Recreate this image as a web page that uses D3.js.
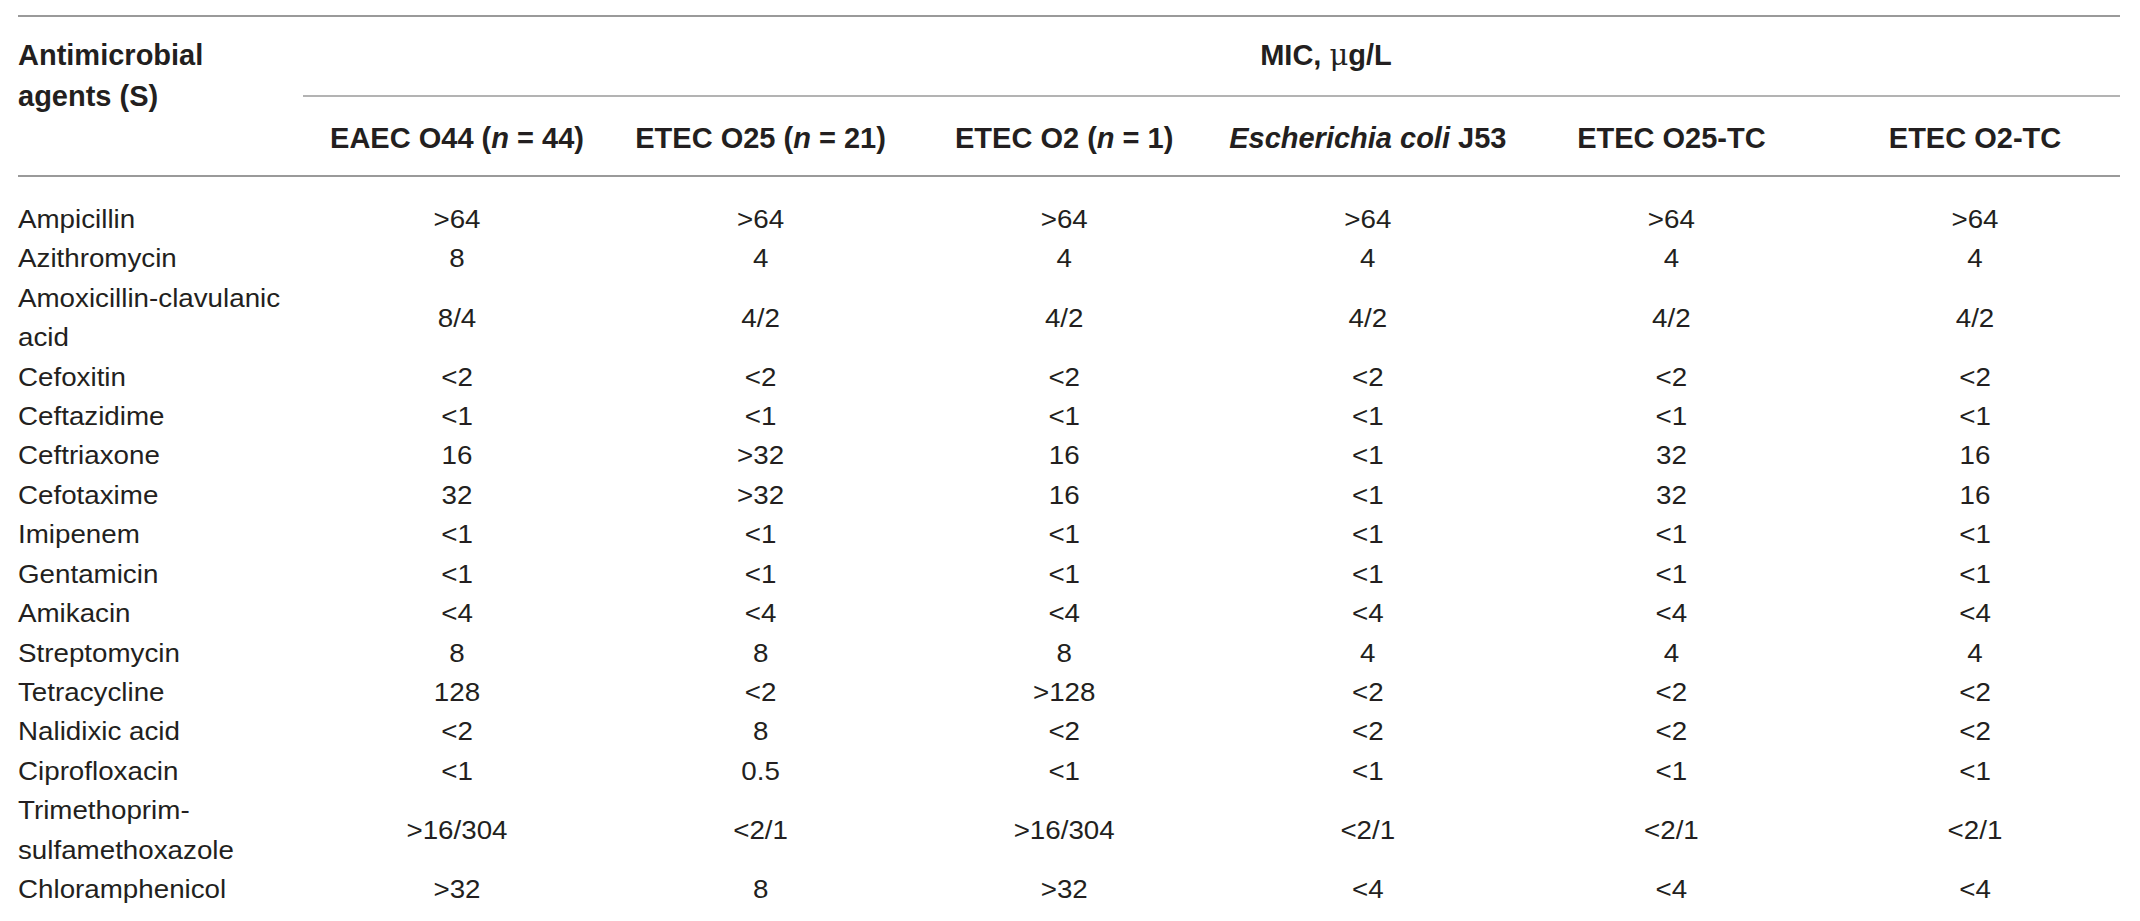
<!DOCTYPE html>
<html>
<head>
<meta charset="utf-8">
<script src="https://cdn.jsdelivr.net/npm/d3@7"></script>
<style>
    body { margin: 0; background: #fff; }
    svg text { font-family: "Liberation Sans", Arial, sans-serif; fill: #231f20; }
</style>
</head>
<body>
<svg id="chart" width="2140" height="921"></svg>
<script>
// - - - - - - - - - -
// data
// - - - - - - - - - -
const agents = [
    ['Ampicillin'],
    ['Azithromycin'],
    ['Amoxicillin-clavulanic', 'acid'],
    ['Cefoxitin'],
    ['Ceftazidime'],
    ['Ceftriaxone'],
    ['Cefotaxime'],
    ['Imipenem'],
    ['Gentamicin'],
    ['Amikacin'],
    ['Streptomycin'],
    ['Tetracycline'],
    ['Nalidixic acid'],
    ['Ciprofloxacin'],
    ['Trimethoprim-', 'sulfamethoxazole'],
    ['Chloramphenicol']
];

// column headers, pieces marked true are italic
const strains = [
    [['EAEC O44 (', false], ['n', true], [' = 44)', false]],
    [['ETEC O25 (', false], ['n', true], [' = 21)', false]],
    [['ETEC O2 (', false], ['n', true], [' = 1)', false]],
    [['Escherichia coli', true], [' J53', false]],
    [['ETEC O25-TC', false]],
    [['ETEC O2-TC', false]]
];

const eaecO44   = ['>64', '8', '8/4', '<2', '<1', '16', '32', '<1', '<1', '<4', '8', '128', '<2', '<1', '>16/304', '>32'];
const etecO25   = ['>64', '4', '4/2', '<2', '<1', '>32', '>32', '<1', '<1', '<4', '8', '<2', '8', '0.5', '<2/1', '8'];
const etecO2    = ['>64', '4', '4/2', '<2', '<1', '16', '16', '<1', '<1', '<4', '8', '>128', '<2', '<1', '>16/304', '>32'];
const ecoliJ53  = ['>64', '4', '4/2', '<2', '<1', '<1', '<1', '<1', '<1', '<4', '4', '<2', '<2', '<1', '<2/1', '<4'];
const etecO25TC = ['>64', '4', '4/2', '<2', '<1', '32', '32', '<1', '<1', '<4', '4', '<2', '<2', '<1', '<2/1', '<4'];
const etecO2TC  = ['>64', '4', '4/2', '<2', '<1', '16', '16', '<1', '<1', '<4', '4', '<2', '<2', '<1', '<2/1', '<4'];

const columns = [eaecO44, etecO25, etecO2, ecoliJ53, etecO25TC, etecO2TC];

// - - - - - - - - - -
// layout
// - - - - - - - - - -
const svg = d3.select('#chart');
const left = 18, right = 2120;
const fsHead = 29;      // bold header size
const fsBody = 25;      // body size, drawn a little wide
const wide = 1.11;
const lineColor = '#9a9a9a';

// line index of every row (two-line names take two)
let idx = 0;
const rows = agents.map(function (a, i) {
    const r = { name: a, start: idx, mid: idx + (a.length - 1) / 2 };
    idx += a.length;
    return r;
});

// baselines of body lines
const y = d3.scaleLinear().domain([0, idx - 1]).range([228, 898]);
const x = d3.scalePoint().domain(d3.range(strains.length)).range([457, 1975]);

// rules
function rule(x1, x2, yy, w) {
    svg.append('line')
        .attr('x1', x1).attr('x2', x2)
        .attr('y1', yy).attr('y2', yy)
        .attr('stroke', lineColor)
        .attr('stroke-width', w);
}
rule(left, right, 16, 2);
rule(303, right, 96, 1.5);
rule(left, right, 176, 2);

// - - - - - - - - - -
// header
// - - - - - - - - - -
svg.append('text').attr('x', left).attr('y', 65)
    .attr('font-size', fsHead).attr('font-weight', 'bold')
    .text('Antimicrobial');
svg.append('text').attr('x', left).attr('y', 106)
    .attr('font-size', fsHead).attr('font-weight', 'bold')
    .text('agents (S)');

const mic = svg.append('text').attr('x', 1326).attr('y', 65)
    .attr('font-size', fsHead).attr('font-weight', 'bold')
    .attr('text-anchor', 'middle');
mic.append('tspan').text('MIC, ');
mic.append('tspan').attr('font-family', '"DejaVu Serif", serif').attr('font-weight', 'normal').text('\u03bc');
mic.append('tspan').text('g/L');

svg.selectAll('text.strain')
    .data(strains)
    .join('text')
    .attr('class', 'strain')
    .attr('x', (d, i) => x(i))
    .attr('y', 148)
    .attr('font-size', fsHead)
    .attr('font-weight', 'bold')
    .attr('text-anchor', 'middle')
    .selectAll('tspan')
    .data(d => d)
    .join('tspan')
    .attr('font-style', d => d[1] ? 'italic' : 'normal')
    .text(d => d[0]);

// - - - - - - - - - -
// body
// - - - - - - - - - -
const rowG = svg.selectAll('g.row')
    .data(rows)
    .join('g')
    .attr('class', 'row');

rowG.selectAll('text.name')
    .data(d => d.name.map((t, k) => ({ t: t, line: d.start + k })))
    .join('text')
    .attr('class', 'name')
    .attr('transform', d => 'translate(' + left + ',' + y(d.line) + ') scale(' + wide + ',1)')
    .attr('font-size', fsBody)
    .text(d => d.t);

columns.forEach(function (col, c) {
    svg.selectAll('text.v' + c)
        .data(col)
        .join('text')
        .attr('class', 'v' + c)
        .attr('transform', (d, i) => 'translate(' + x(c) + ',' + y(rows[i].mid) + ') scale(' + wide + ',1)')
        .attr('font-size', fsBody)
        .attr('text-anchor', 'middle')
        .text(d => d);
});
</script>
</body>
</html>
